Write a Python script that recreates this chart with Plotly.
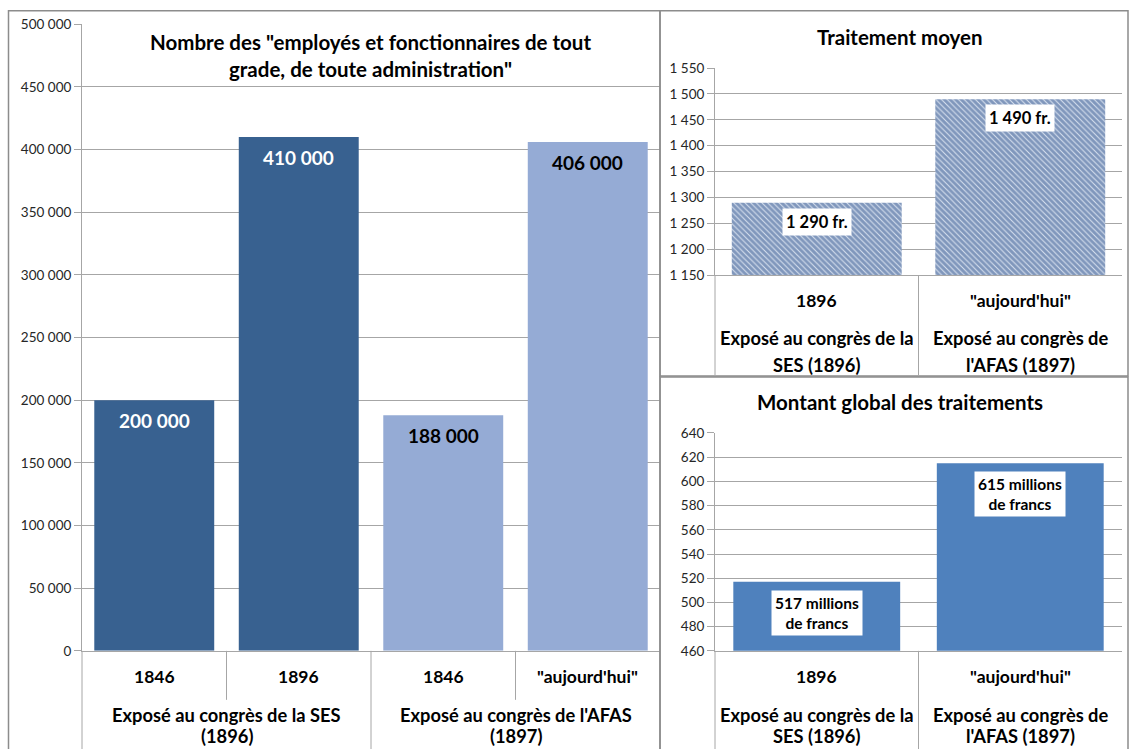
import plotly.graph_objects as go

W, H = 1129, 749
FONT = "Lato"

# ---------------- data ----------------
left_ticks = ["1846", "1896", "1846 ", "\"aujourd'hui\""]
left_values = [200000, 410000, 188000, 406000]
left_labels = ["200 000", "410 000", "188 000", "406 000"]
left_colors = ["#386190", "#386190", "#95ABD5", "#95ABD5"]
left_label_colors = ["white", "white", "black", "black"]
left_groups = [["Exposé au congrès de la SES", "(1896)"],
               ["Exposé au congrès de l'AFAS", "(1897)"]]
left_title = "Nombre des \"employés et fonctionnaires de tout<br>grade, de toute administration\""

right_ticks = ["1896", "\"aujourd'hui\""]
right_groups = [["Exposé au congrès de la", "SES (1896)"],
                ["Exposé au congrès de", "l'AFAS (1897)"]]

salary_values = [1290, 1490]
salary_labels = ["1 290 fr.", "1 490 fr."]
salary_title = "Traitement moyen"

total_values = [517, 615]
total_labels = ["517 millions<br>de francs", "615 millions<br>de francs"]
total_title = "Montant global des traitements"


def px(x):
    return x / W


def py(y):
    # vertical position in the picture -> paper fraction (capture offset compensated)
    t = y * 765.0 / 749.0 - 8.0
    return 1 - t / H


fig = go.Figure()

fig.add_trace(go.Bar(x=left_ticks, y=left_values, marker=dict(color=left_colors, line=dict(width=0)),
                     width=0.83, xaxis="x", yaxis="y", hoverinfo="skip"))
fig.add_trace(go.Bar(x=right_ticks, y=salary_values, width=0.835,
                     marker=dict(color="#DDE5F2", line=dict(width=0),
                                 pattern=dict(shape="\\", fgcolor="#284D87", bgcolor="#D8E1F0",
                                              size=4, solidity=0.74)),
                     xaxis="x2", yaxis="y2", hoverinfo="skip"))
fig.add_trace(go.Bar(x=right_ticks, y=total_values, width=0.82,
                     marker=dict(color="#4F81BD", line=dict(width=0)),
                     xaxis="x3", yaxis="y3", hoverinfo="skip"))

grid = "#A6A6A6"
tickfont = dict(family=FONT, size=13.5, color="#262626")


def yax(dom, rng, dtick, anchor):
    return dict(domain=dom, range=rng, dtick=dtick, tickformat=",d", showgrid=True, gridcolor=grid,
                gridwidth=1, showline=True, linecolor=grid, linewidth=1, ticks="outside",
                ticklen=7, tickcolor=grid, tickfont=tickfont, zeroline=False, anchor=anchor,
                fixedrange=True)


def xax(dom, anchor, cats):
    return dict(domain=dom, type="category", categoryorder="array", categoryarray=cats,
                range=[-0.5, len(cats) - 0.5],
                showticklabels=False, showline=True, linecolor=grid, linewidth=1,
                ticks="", anchor=anchor, showgrid=False, fixedrange=True)


fig.update_layout(
    width=W, height=H, margin=dict(l=0, r=0, t=0, b=0),
    paper_bgcolor="white", plot_bgcolor="white", showlegend=False,
    separators=", ", bargap=0.17,
    font=dict(family=FONT),
    xaxis=xax([px(82), px(660)], "y", left_ticks),
    yaxis=yax([py(651), py(24)], [0, 500000], 50000, "x"),
    xaxis2=xax([px(715), px(1122)], "y2", right_ticks),
    yaxis2=yax([py(275), py(68)], [1150, 1550], 50, "x2"),
    xaxis3=xax([px(715), px(1122)], "y3", right_ticks),
    yaxis3=yax([py(651), py(433)], [460, 640], 20, "x3"),
)

ann = []
shapes = []
bold = lambda s, c="black": dict(family=FONT, size=s, color=c)

# left data labels
for i, (v, lab, c) in enumerate(zip(left_values, left_labels, left_label_colors)):
    ann.append(dict(x=i, y=v, xref="x", yref="y", text="<b>%s</b>" % lab, showarrow=False,
                    xanchor="center", yanchor="top", yshift=-7, font=bold(19, c)))
# salary labels
for i, (v, lab) in enumerate(zip(salary_values, salary_labels)):
    ann.append(dict(x=i, y=v, xref="x2", yref="y2", text="<b>%s</b>" % lab, showarrow=False,
                    xanchor="center", yanchor="top", yshift=-5, font=bold(16.5), bgcolor="white",
                    borderpad=3))
# total labels
for i, (v, lab) in enumerate(zip(total_values, total_labels)):
    ann.append(dict(x=i, y=v, xref="x3", yref="y3", text="<b>%s</b>" % lab, showarrow=False,
                    xanchor="center", yanchor="top", yshift=-8, font=bold(15.5), bgcolor="white",
                    borderpad=3))

# titles
ann.append(dict(x=px(370), y=py(55), xref="paper", yref="paper", text="<b>%s</b>" % left_title,
                showarrow=False, xanchor="center", yanchor="middle", font=bold(20.5)))
ann.append(dict(x=px(900), y=py(37), xref="paper", yref="paper", text="<b>%s</b>" % salary_title,
                showarrow=False, xanchor="center", yanchor="middle", font=bold(20.5)))
ann.append(dict(x=px(900), y=py(402), xref="paper", yref="paper", text="<b>%s</b>" % total_title,
                showarrow=False, xanchor="center", yanchor="middle", font=bold(20.5)))

# category labels - left
for i, t in enumerate(left_ticks):
    ann.append(dict(x=i, y=py(677), xref="x", yref="paper", text="<b>%s</b>" % t.strip(),
                    showarrow=False, xanchor="center", yanchor="middle", font=bold(17.5)))
for gi, lines in enumerate(left_groups):
    for line, yy in zip(lines, [715, 736]):
        ann.append(dict(x=0.5 + 2 * gi, y=py(yy), xref="x", yref="paper", text="<b>%s</b>" % line,
                        showarrow=False, xanchor="center", yanchor="middle", font=bold(18.3)))
# category labels - right
for xr, y0, ys in [("x2", 300, [338, 365]), ("x3", 677, [715, 736])]:
    for gi, t in enumerate(right_ticks):
        ann.append(dict(x=gi, y=py(y0), xref=xr, yref="paper", text="<b>%s</b>" % t,
                        showarrow=False, xanchor="center", yanchor="middle", font=bold(17.5)))
        for line, yy in zip(right_groups[gi], ys):
            ann.append(dict(x=gi, y=py(yy), xref=xr, yref="paper", text="<b>%s</b>" % line,
                            showarrow=False, xanchor="center", yanchor="middle", font=bold(18.3)))

# category dividers
lc = dict(color=grid, width=1)
shapes.append(dict(type="line", xref="paper", yref="paper", x0=px(82), x1=px(82), y0=py(651), y1=-0.05, line=lc))
for xv, yb in [(0.5, 700), (2.5, 700)]:
    shapes.append(dict(type="line", xref="x", yref="paper", x0=xv, x1=xv, y0=py(651), y1=py(yb), line=lc))
shapes.append(dict(type="line", xref="x", yref="paper", x0=1.5, x1=1.5, y0=py(651), y1=-0.05, line=lc))
shapes.append(dict(type="line", xref="paper", yref="paper", x0=px(715), x1=px(715), y0=py(275), y1=py(375), line=lc))
shapes.append(dict(type="line", xref="x2", yref="paper", x0=0.5, x1=0.5, y0=py(275), y1=py(375), line=lc))
shapes.append(dict(type="line", xref="paper", yref="paper", x0=px(715), x1=px(715), y0=py(651), y1=-0.05, line=lc))
shapes.append(dict(type="line", xref="x3", yref="paper", x0=0.5, x1=0.5, y0=py(651), y1=-0.05, line=lc))

# chart frames
fc = dict(color="#8C8C8C", width=1.5)
shapes.append(dict(type="rect", xref="paper", yref="paper", x0=px(8.5), x1=px(660), y0=py(10.5), y1=-0.05, line=fc))
shapes.append(dict(type="rect", xref="paper", yref="paper", x0=px(660), x1=px(1128), y0=py(10.5), y1=py(376), line=fc))
shapes.append(dict(type="rect", xref="paper", yref="paper", x0=px(660), x1=px(1128), y0=py(377), y1=-0.05, line=fc))

fig.update_layout(annotations=ann, shapes=shapes)
fig.write_html(
    "out.html",
    config={"displayModeBar": False},
    post_script=("var gd=document.getElementById('{plot_id}');"
                 "gd.style.position='fixed';gd.style.top='0px';gd.style.left='0px';"
                 "document.documentElement.style.margin='0';"
                 "document.documentElement.style.overflow='hidden';"
                 "document.documentElement.style.height='749px';"
                 "document.body.style.margin='0';document.body.style.padding='0';"
                 "document.body.style.height='749px';"
                 "document.body.style.overflow='hidden';"),
)
